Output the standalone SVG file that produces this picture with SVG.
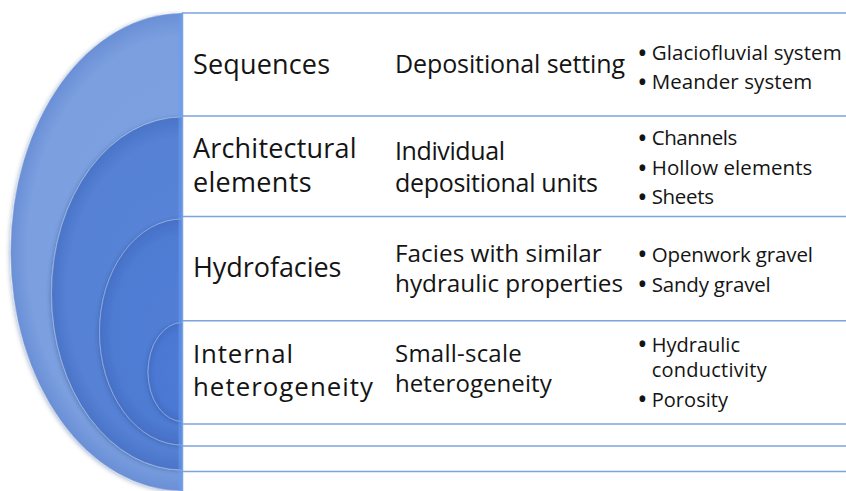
<svg xmlns="http://www.w3.org/2000/svg" width="846" height="491" viewBox="0 0 846 491">
  <style>
    .t1 { font-family: "Open Sans", "Liberation Sans", sans-serif; font-size: 27px; fill: #141414; }
    .t1s { font-family: "Open Sans", "Liberation Sans", sans-serif; font-size: 25.8px; fill: #141414; }
    .t2 { font-family: "Open Sans", "Liberation Sans", sans-serif; font-size: 25px; fill: #141414; }
    .t2m { font-family: "Open Sans", "Liberation Sans", sans-serif; font-size: 24.3px; fill: #141414; }
    .t2s { font-family: "Open Sans", "Liberation Sans", sans-serif; font-size: 24px; fill: #141414; }
    .t3 { font-family: "Open Sans", "Liberation Sans", sans-serif; font-size: 20.5px; fill: #141414; }
    .t3s { font-family: "Open Sans", "Liberation Sans", sans-serif; font-size: 20px; fill: #141414; }
    .bul { font-family: "Open Sans", "Liberation Sans", sans-serif; font-size: 20.5px; font-weight: 700; fill: #141414; text-anchor: middle; }
    .grid { stroke: #7da2e0; stroke-width: 1.5; fill: none; }
    .ring { stroke: rgba(255,255,255,0.35); stroke-width: 1; filter: url(#shadow); }
  </style>
  <defs>
    <radialGradient id="g1" cx="0.5" cy="0.5" r="0.5">
      <stop offset="0" stop-color="#7ea2e1"/>
      <stop offset="0.9" stop-color="#7b9fdf"/>
      <stop offset="1" stop-color="#6a8fd6"/>
    </radialGradient>
    <radialGradient id="g2" cx="0.5" cy="0.5" r="0.5">
      <stop offset="0" stop-color="#5a85d8"/>
      <stop offset="0.88" stop-color="#5681d4"/>
      <stop offset="1" stop-color="#4a74c8"/>
    </radialGradient>
    <radialGradient id="g3" cx="0.5" cy="0.5" r="0.5">
      <stop offset="0" stop-color="#527ed6"/>
      <stop offset="0.85" stop-color="#4f7bd3"/>
      <stop offset="1" stop-color="#4570c6"/>
    </radialGradient>
    <radialGradient id="g4" cx="0.5" cy="0.5" r="0.5">
      <stop offset="0" stop-color="#4e7bd6"/>
      <stop offset="0.8" stop-color="#4b78d3"/>
      <stop offset="1" stop-color="#426ec6"/>
    </radialGradient>
    <filter id="shadow" x="-20%" y="-20%" width="140%" height="140%">
      <feDropShadow dx="-1" dy="1" stdDeviation="2" flood-color="#1f3c7a" flood-opacity="0.35"/>
    </filter>
  </defs>

  <rect width="846" height="491" fill="#ffffff"/>

  <g id="rings">
    <ellipse cx="182.5" cy="252" rx="172" ry="239" fill="url(#g1)" class="ring"/>
    <ellipse cx="182.5" cy="293.5" rx="131" ry="176.5" fill="url(#g2)" class="ring"/>
    <ellipse cx="182.5" cy="332" rx="83" ry="113" fill="url(#g3)" class="ring"/>
    <ellipse cx="182.5" cy="372" rx="34.5" ry="49.5" fill="url(#g4)" class="ring"/>
    <rect x="178.5" y="13" width="4" height="478" fill="#6a9cf0" opacity="0.55"/>
  </g>

  <rect x="182.5" y="0" width="664" height="491" fill="#ffffff"/>

  <g id="lines">
    <line class="grid" x1="182.5" y1="13" x2="846" y2="13"/>
    <line class="grid" x1="182.5" y1="116" x2="846" y2="116"/>
    <line class="grid" x1="182.5" y1="216.5" x2="846" y2="216.5"/>
    <line class="grid" x1="182.5" y1="320.7" x2="846" y2="320.7"/>
    <line class="grid" x1="182.5" y1="424" x2="846" y2="424"/>
    <line class="grid" x1="182.5" y1="446" x2="846" y2="446"/>
    <line class="grid" x1="182.5" y1="471.5" x2="846" y2="471.5"/>
    <line class="grid" x1="182.5" y1="12.3" x2="182.5" y2="491"/>
  </g>

  <g id="row-sequences">
    <text class="t1" x="193" y="74" textLength="137">Sequences</text>
    <text class="t2" x="395" y="73.3" textLength="230">Depositional setting</text>
    <text class="bul"><tspan x="642.3" y="60.5">•</tspan><tspan x="642.3" y="89.8">•</tspan></text>
    <text class="t3"><tspan x="651.7" y="60" textLength="190">Glaciofluvial system</tspan><tspan x="651.7" y="89.3" textLength="160.6">Meander system</tspan></text>
  </g>

  <g id="row-architectural">
    <text class="t1"><tspan x="193" y="158" textLength="163.5">Architectural</tspan><tspan x="193" y="192" textLength="118.5">elements</tspan></text>
    <text class="t2"><tspan x="395" y="160" textLength="110">Individual</tspan><tspan x="395" y="191.7" textLength="203">depositional units</tspan></text>
    <text class="bul"><tspan x="642.3" y="145.5">•</tspan><tspan x="642.3" y="175.5">•</tspan><tspan x="642.3" y="204.5">•</tspan></text>
    <text class="t3"><tspan x="651.7" y="145" textLength="85.6">Channels</tspan><tspan x="651.7" y="175" textLength="160.6">Hollow elements</tspan><tspan x="651.7" y="204" textLength="62.3">Sheets</tspan></text>
  </g>

  <g id="row-hydrofacies">
    <text class="t1" x="193" y="277" textLength="148.4">Hydrofacies</text>
    <text class="t2m"><tspan x="395" y="261.5" textLength="206.7">Facies with similar</tspan><tspan x="395" y="292" textLength="228">hydraulic properties</tspan></text>
    <text class="bul"><tspan x="642.3" y="262.2">•</tspan><tspan x="642.3" y="292.2">•</tspan></text>
    <text class="t3"><tspan x="651.7" y="261.7" textLength="161.3">Openwork gravel</tspan><tspan x="651.7" y="291.7" textLength="119">Sandy gravel</tspan></text>
  </g>

  <g id="row-internal">
    <text class="t1s"><tspan x="193" y="363" textLength="100">Internal</tspan><tspan x="193" y="395.5" textLength="180">heterogeneity</tspan></text>
    <text class="t2s"><tspan x="395" y="361.7" textLength="126.7">Small-scale</tspan><tspan x="395" y="391.7" textLength="156.7">heterogeneity</tspan></text>
    <text class="bul"><tspan x="642.3" y="352.2">•</tspan><tspan x="642.3" y="407.2">•</tspan></text>
    <text class="t3s"><tspan x="651.7" y="351.5" textLength="88.3">Hydraulic</tspan><tspan x="651.7" y="377" textLength="115">conductivity</tspan><tspan x="651.7" y="406.7" textLength="76.3">Porosity</tspan></text>
  </g>
</svg>
